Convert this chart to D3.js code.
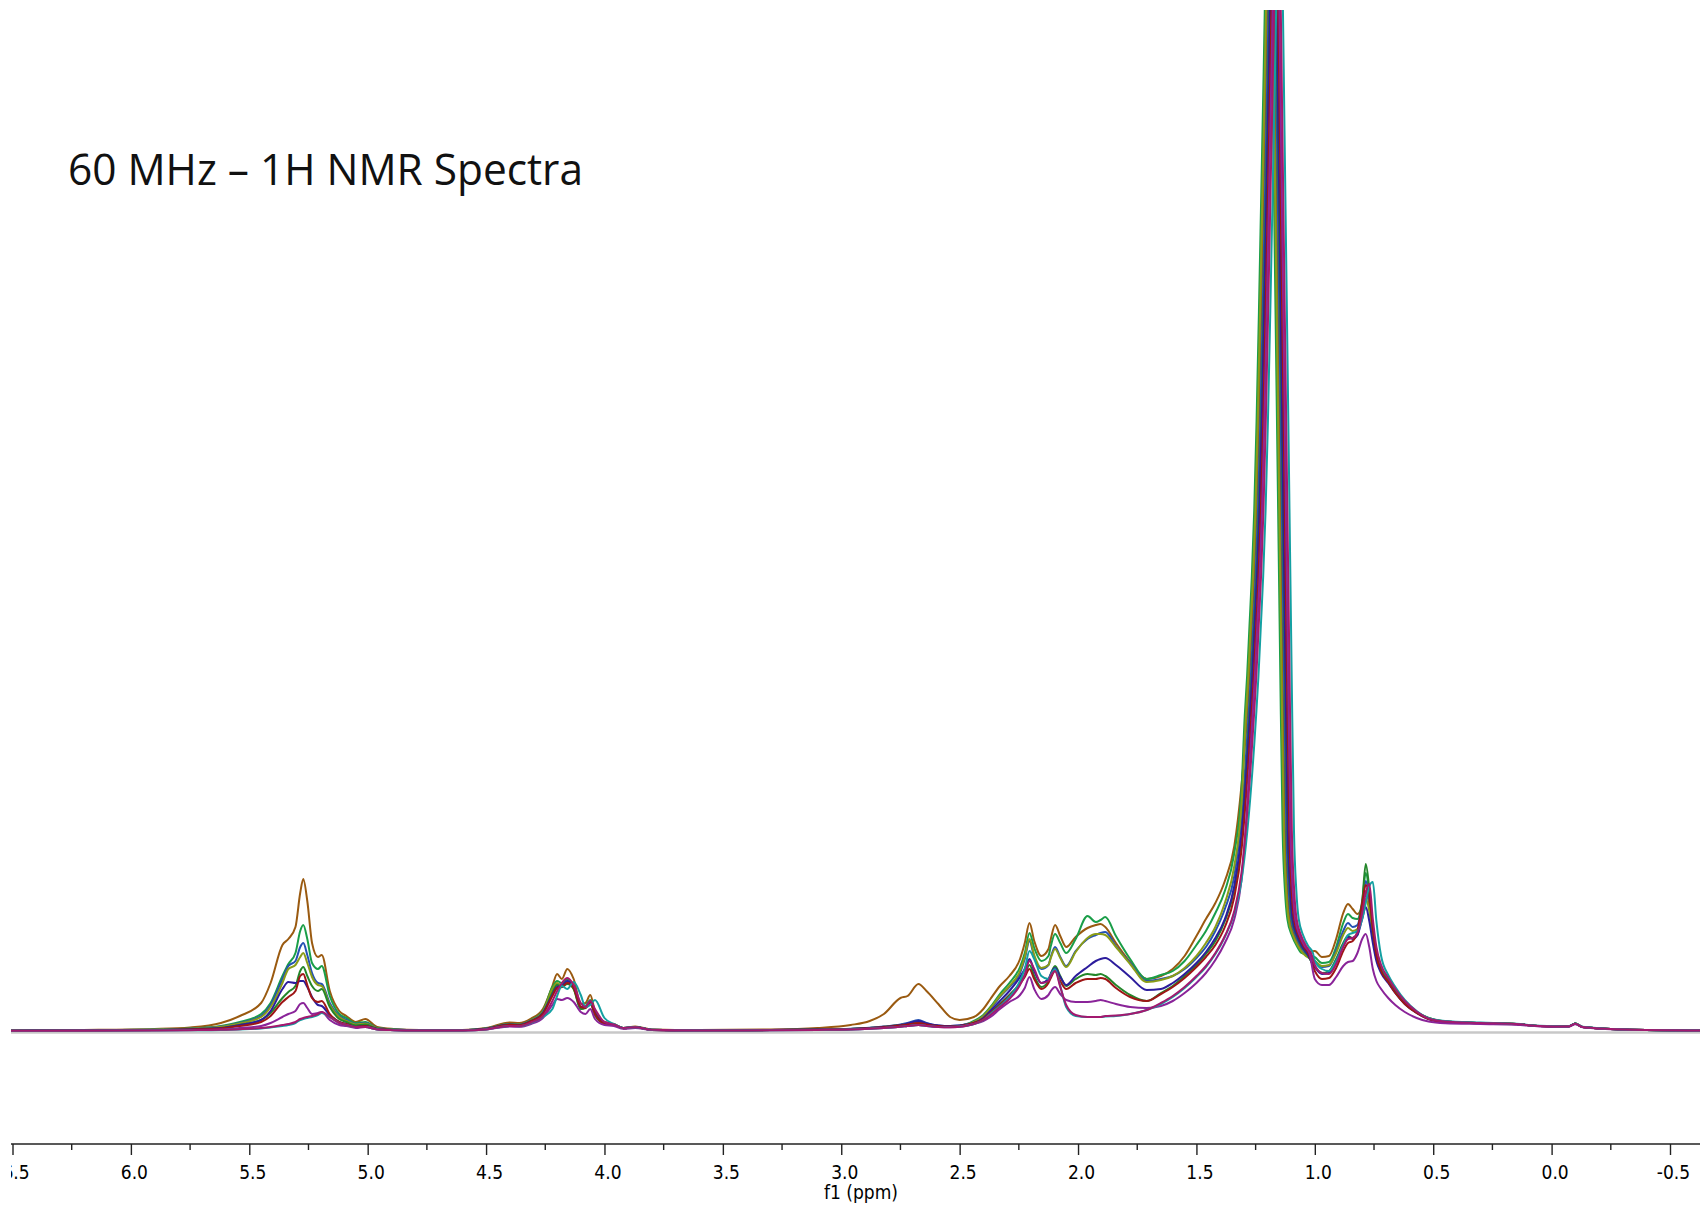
<!DOCTYPE html>
<html>
<head>
<meta charset="utf-8">
<script src="https://cdn.jsdelivr.net/npm/d3@7"></script>
<style>
  html, body { margin: 0; padding: 0; background: #fff; }
  svg { display: block; }
</style>
</head>
<body>
<svg id="chart" width="1700" height="1207"></svg>
<script>
// Chemical shift sample positions (ppm), shared by all traces outside the main CH2 peak
const ppmGrid = [
  6.60, 6.20, 5.90, 5.75, 5.62, 5.54, 5.45, 5.41, 5.36, 5.335, 5.305, 5.285, 5.272, 5.255, 5.235, 5.21, 5.194, 5.16, 5.12, 5.09, 5.05, 5.01, 4.96, 4.89, 4.78,
  4.60, 4.50, 4.40, 4.36, 4.31, 4.26, 4.22, 4.20, 4.18, 4.157, 4.13, 4.10, 4.08, 4.06, 4.04, 4.00, 3.96, 3.92, 3.87, 3.80,
  3.60, 3.30, 3.10, 2.96, 2.88, 2.82, 2.75, 2.72, 2.674, 2.64, 2.59, 2.54, 2.50,
  2.44, 2.40, 2.37, 2.33, 2.29, 2.245, 2.225, 2.205, 2.185, 2.155, 2.125, 2.115, 2.097, 2.075, 2.05, 2.01, 1.96, 1.925, 1.905, 1.885, 1.84, 1.78, 1.71, 1.65,
  1.60, 1.55, 1.50, 1.46, 1.42, 1.38, 1.34, 1.31,
  1.00, 0.97, 0.94, 0.91, 0.88, 0.86, 0.84, 0.82, 0.80, 0.785, 0.77, 0.755, 0.74, 0.72, 0.69, 0.66, 0.62, 0.57, 0.52, 0.45, 0.30, 0.15, 0.05, -0.07, -0.10, -0.13, -0.30, -0.65
];

// Intensities (a.u.) of each spectrum on ppmGrid
const spectrum1 = [
  0.5, 1, 2, 3.5, 8, 15, 28, 48, 86, 92, 104, 138, 152, 130, 88, 74, 76, 40, 20, 15, 9, 12, 4, 2, 1,
  1, 3, 8.5, 8, 12.5, 22, 45, 57, 52, 62, 52, 27, 28, 36, 20, 9, 7, 3, 4.5, 1.5,
  1, 1.5, 3, 6, 10, 17, 33, 35, 47, 40, 27, 14, 11,
  14, 22, 32, 45, 55, 72, 88, 108, 90, 75, 82, 92, 106, 95, 84, 94, 103, 106, 107, 104, 88, 69, 52, 55,
  62, 75, 95, 112, 128, 150, 185, 245,
  80, 74, 75, 92, 118, 127, 122, 117, 125, 140, 126, 98, 76, 62, 51, 40, 29, 19, 13, 9.5, 8, 7, 5, 4.5, 7.5, 4, 1.5, 0.4
];
const spectrum2 = [
  0.5, 0.8, 1.5, 2.5, 5, 9, 17, 28, 55, 67, 78, 100, 106, 92, 68, 62, 65, 35, 17, 13, 8, 9, 3, 1.5, 0.8,
  0.8, 2.5, 7, 6.5, 11, 20, 44, 50, 48, 52, 45, 24, 25, 31, 18, 8, 6.5, 3, 4, 1.2,
  0.6, 1, 1.5, 2, 3, 4, 6, 7, 9, 7, 5, 4.5, 5,
  10, 16, 24, 37, 48, 64, 78, 98, 83, 70, 75, 85, 97, 88, 78, 92, 115, 109, 111, 114, 95, 72, 52, 56,
  60, 70, 86, 100, 118, 140, 178, 240,
  74, 68, 69, 84, 108, 117, 113, 112, 130, 158, 138, 100, 76, 62, 51, 40, 29, 19, 13, 9.5, 8, 7, 5, 4.5, 7.5, 4, 1.5, 0.4
];
const spectrum3 = [
  0.4, 0.7, 1.3, 2.2, 4.5, 8, 15, 26, 52, 65, 70, 84, 88, 76, 58, 48, 47, 28, 15, 11, 7, 8, 3, 1.4, 0.7,
  0.8, 2.4, 6.8, 6.3, 10.5, 19, 40, 47, 46, 50, 44, 23, 24, 30, 17, 8, 6.5, 2.8, 4, 1.2,
  0.6, 1, 1.5, 2.2, 3.2, 4.5, 6.5, 8, 11, 8, 5.5, 5, 5.5,
  9, 15, 22, 34, 44, 58, 72, 90, 74, 62, 66, 74, 84, 74, 65, 80, 92, 96, 98, 99, 85, 68, 50, 52,
  55, 62, 73, 84, 100, 122, 155, 212,
  70, 64, 65, 80, 100, 108, 104, 106, 126, 150, 133, 98, 75, 61, 50, 39, 28, 18.5, 12.5, 9.3, 8, 7, 5, 4.5, 7.5, 4, 1.5, 0.4
];
const spectrum4 = [
  0.4, 0.7, 1.3, 2.2, 4.3, 7.5, 14, 24, 48, 62, 66, 74, 78, 68, 54, 46, 45, 26, 14, 10, 6.5, 7.5, 2.8, 1.3, 0.7,
  0.8, 2.4, 6.8, 6.2, 10.5, 19, 42, 48, 45, 49, 42, 22, 24, 29, 16, 7.5, 6.3, 2.8, 3.8, 1.2,
  0.6, 1, 1.5, 2, 3, 4.2, 6, 7, 9, 7, 5, 4.6, 5.2,
  9, 15, 23, 35, 45, 60, 74, 92, 76, 63, 66, 73, 82, 73, 64, 79, 93, 97, 97, 96, 84, 67, 49, 51,
  55, 63, 75, 88, 104, 128, 165, 225,
  70, 65, 66, 78, 96, 103, 100, 102, 118, 132, 120, 94, 73, 60, 49, 39, 28, 18.5, 12.5, 9.3, 8, 7, 5, 4.5, 7.5, 4, 1.5, 0.4
];
const spectrum5 = [
  0.3, 0.6, 1, 1.8, 3, 6, 11, 18, 33, 39, 45, 60, 64, 55, 45, 40, 42, 24, 12, 9, 5.5, 6.5, 2.5, 1.2, 0.6,
  0.7, 2.2, 6.5, 6, 10, 18, 38, 46, 44, 47, 42, 22, 23, 28, 16, 7.5, 6.2, 2.7, 3.8, 1.1,
  0.5, 0.9, 1.4, 1.9, 2.8, 3.8, 5.5, 6.5, 8, 6.5, 5, 4.5, 5,
  8, 12, 18, 27, 36, 48, 56, 66, 55, 44, 50, 57, 65, 55, 45, 52, 57, 56, 57, 55, 46, 36, 30, 38,
  45, 55, 66, 77, 90, 110, 142, 192,
  64, 58, 60, 72, 88, 95, 93, 96, 128, 167, 142, 100, 75, 60, 50, 39, 28, 18.5, 12.5, 9.3, 8, 7, 5, 4.5, 7.5, 4, 1.5, 0.4
];
const spectrum6 = [
  0.3, 0.6, 1, 1.8, 3, 6, 11, 20, 42, 49, 48, 50, 50, 44, 34, 26, 25, 16, 9, 7, 4, 5, 2, 1, 0.5,
  0.7, 2.2, 6.5, 6, 10, 18, 36, 44, 45, 50, 44, 24, 24, 29, 18, 8, 6.5, 2.8, 3.8, 1.1,
  0.5, 0.9, 1.4, 2, 3, 4.2, 6, 7.5, 10, 7.5, 5.5, 5, 5.5,
  8, 13, 20, 30, 40, 54, 62, 72, 60, 48, 52, 57, 63, 54, 46, 55, 64, 70, 72, 73, 66, 54, 41, 42,
  48, 57, 68, 79, 93, 112, 145, 196,
  64, 57, 58, 70, 86, 94, 92, 96, 112, 124, 110, 88, 70, 58, 48, 38, 27, 18, 12, 9, 7.8, 6.8, 5, 4.5, 7.2, 4, 1.5, 0.4
];
const spectrum7 = [
  0.3, 0.5, 0.9, 1.5, 2.5, 5, 9, 15, 29, 34, 40, 55, 57, 46, 33, 29, 30, 17, 9, 7, 4, 5, 2, 1, 0.5,
  0.7, 2.1, 6.3, 5.8, 9.8, 17, 35, 43, 44, 48, 43, 24, 23, 28, 17, 7.5, 6.2, 2.7, 3.7, 1.1,
  0.5, 0.9, 1.3, 1.8, 2.7, 3.8, 5.5, 6.5, 8, 6.5, 5, 4.5, 5,
  8, 12, 18, 26, 35, 47, 54, 62, 52, 42, 48, 53, 60, 50, 42, 48, 52, 52, 53, 52, 43, 34, 30, 37,
  44, 53, 64, 74, 86, 104, 134, 180,
  60, 52, 53, 63, 80, 88, 90, 100, 128, 146, 136, 102, 76, 60, 49, 38, 27, 18, 12, 9, 7.8, 6.8, 5, 4.5, 7.2, 4, 1.5, 0.4
];
const spectrum8 = [
  0.2, 0.4, 0.7, 1, 1.5, 3, 5, 8, 14, 17, 20, 27, 28, 23, 17, 18, 19, 11, 6, 5, 3, 4, 1.5, 0.8, 0.4,
  0.5, 1.5, 4.5, 4.2, 7, 13, 26, 32, 31, 33, 29, 19, 17, 22, 12, 6, 5, 2.2, 3, 0.9,
  0.4, 0.8, 1.1, 1.5, 2.2, 3, 4.2, 5, 6, 5, 4, 3.8, 4.2,
  7, 10, 14, 22, 29, 36, 43, 54, 42, 32, 36, 40, 44, 37, 31, 29, 29, 30, 31, 30, 27, 24, 23, 25,
  30, 38, 48, 58, 71, 88, 112, 150,
  52, 46, 46, 54, 65, 69, 70, 78, 92, 97, 84, 62, 50, 42, 33, 26, 19, 13, 9.5, 7.8, 7, 6.3, 4.6, 4.2, 6.8, 3.8, 1.4, 0.4
];
const spectrum9 = [
  0.2, 0.3, 0.5, 0.7, 1, 1.5, 2.5, 3.5, 5, 6, 8, 11, 12, 13, 14, 16, 18, 14, 8, 6, 4, 4, 1.5, 0.8, 0.4,
  0.5, 1.6, 5, 4.8, 8, 14, 22, 35, 45, 42, 49, 36, 24, 26, 31, 13, 7, 3, 3.8, 1.2,
  0.4, 0.8, 1.1, 1.5, 2.2, 3, 4.2, 5, 6, 5, 4, 4, 4.5,
  7, 11, 17, 25, 34, 50, 62, 80, 72, 55, 52, 56, 62, 45, 24, 15, 14, 14, 14, 14.5, 15, 17, 21, 27,
  34, 43, 54, 64, 77, 94, 118, 150,
  70, 62, 60, 70, 86, 96, 98, 100, 112, 128, 145, 149, 110, 75, 56, 44, 31, 20, 13, 10, 8.5, 7.2, 5.2, 4.6, 7.6, 4.2, 1.6, 0.4
];
const spectrum10 = [
  0.2, 0.3, 0.5, 0.8, 1.2, 1.8, 3, 4, 6, 7, 9, 12, 13, 14, 15, 17, 19, 14, 8, 6, 4, 4, 1.5, 0.8, 0.4,
  0.5, 1.6, 5, 4.8, 8.5, 15, 30, 40, 48, 53, 46, 28, 24, 30, 22, 9, 6.5, 3, 3.8, 1.2,
  0.4, 0.8, 1.1, 1.5, 2.2, 3, 4.2, 5, 6, 5, 4, 3.8, 4.3,
  7, 11, 16, 24, 32, 46, 56, 70, 62, 48, 50, 55, 60, 44, 26, 16, 14, 14, 14, 15, 15.5, 17, 21, 28,
  35, 44, 55, 65, 78, 95, 120, 158,
  66, 58, 57, 67, 84, 92, 93, 98, 118, 138, 147, 112, 84, 66, 53, 42, 30, 19.5, 12.5, 9.5, 8, 7, 5, 4.5, 7.3, 4, 1.5, 0.4
];

// Main CH2 peak near 1.2 ppm: common line shape (offset from apex in ppm, intensity)
const peakOffsets = [0.10, 0.09, 0.08, 0.07, 0.06, 0.05, 0.04, 0.03, 0.02, 0.01, 0,
  -0.01, -0.02, -0.03, -0.04, -0.05, -0.06, -0.07, -0.08, -0.10, -0.12, -0.14];
const peakProfile = [315, 355, 405, 455, 520, 610, 720, 840, 960, 1090, 1200,
  1080, 900, 720, 540, 360, 200, 140, 112, 95, 85, 78];
// Apex position of the main peak in each spectrum (ppm)
const peakApex = [1.186, 1.196, 1.180, 1.191, 1.176, 1.174, 1.168, 1.163, 1.148, 1.157];

const traceColors = ["#9a5a10", "#1a9e48", "#2451b3", "#8a9c18", "#23862a",
                     "#2c1c9c", "#9e1616", "#8a2499", "#14a0a2", "#a3196f"];

const majorTicks = d3.range(13, -2, -1).map(i => i * 0.5);
const minorTicks = d3.range(12.5, -1, -1).map(i => i * 0.5);

const series = [spectrum1, spectrum2, spectrum3, spectrum4, spectrum5,
                spectrum6, spectrum7, spectrum8, spectrum9, spectrum10];

// ---- drawing ----
const svg = d3.select("#chart");
const x = d3.scaleLinear().domain([6.5, -0.5]).range([12.5, 1670]);
const y = d3.scaleLinear().domain([0, 1021]).range([1031, 10]);

const defs = svg.append("defs");
defs.append("clipPath").attr("id", "plotClip")
  .append("rect").attr("x", 11).attr("y", 10).attr("width", 1689).attr("height", 1134);
defs.append("clipPath").attr("id", "axisClip")
  .append("rect").attr("x", 11).attr("y", 1130).attr("width", 1689).attr("height", 77);

// zero line
svg.append("line")
  .attr("x1", 11).attr("x2", 1700)
  .attr("y1", y(-1.5)).attr("y2", y(-1.5))
  .attr("stroke", "#c8c8c8").attr("stroke-width", 2.5);

function tracePoints(values, apex) {
  const pts = ppmGrid.map((p, i) => [p, values[i]]);
  peakOffsets.forEach((o, i) => pts.push([apex + o, peakProfile[i]]));
  return pts.sort((a, b) => b[0] - a[0]);
}

const line = d3.line()
  .x(d => x(d[0]))
  .y(d => y(d[1]))
  .curve(d3.curveMonotoneX);

const gSpectra = svg.append("g").attr("clip-path", "url(#plotClip)");
series.forEach((vals, i) => {
  gSpectra.append("path")
    .datum(tracePoints(vals, peakApex[i]))
    .attr("fill", "none")
    .attr("stroke", traceColors[i])
    .attr("stroke-width", 2)
    .attr("stroke-linejoin", "round")
    .attr("d", line);
});

// title
svg.append("text")
  .attr("x", 68).attr("y", 185)
  .attr("font-family", "'Open Sans', 'Noto Sans', sans-serif")
  .attr("font-size", 43)
  .attr("fill", "#111")
  .attr("textLength", 515)
  .attr("lengthAdjust", "spacingAndGlyphs")
  .text("60 MHz \u2013 1H NMR Spectra");

// x axis
const axisFont = "'DejaVu Sans Condensed', 'DejaVu Sans', sans-serif";
const gAxisOuter = svg.append("g").attr("clip-path", "url(#axisClip)");
const gAxis = gAxisOuter.append("g").attr("transform", "translate(0,1144)");
gAxis.call(d3.axisBottom(x)
  .tickValues(majorTicks)
  .tickSize(11)
  .tickFormat(d => d.toFixed(1)));
gAxis.select(".domain").remove();
gAxis.selectAll(".tick line").attr("stroke", "#222").attr("stroke-width", 1.4);
gAxis.selectAll(".tick text")
  .attr("y", 34.5).attr("dy", 0).attr("dx", 3)
  .attr("font-family", axisFont)
  .attr("font-size", 19)
  .attr("fill", "#000");
gAxis.selectAll(".minor")
  .data(minorTicks)
  .enter().append("line")
  .attr("class", "minor")
  .attr("x1", d => x(d)).attr("x2", d => x(d))
  .attr("y1", 0).attr("y2", 6)
  .attr("stroke", "#222").attr("stroke-width", 1.4);
gAxis.append("line")
  .attr("x1", 11).attr("x2", 1700)
  .attr("y1", 0).attr("y2", 0)
  .attr("stroke", "#222").attr("stroke-width", 1.6);

svg.append("text")
  .attr("x", 861).attr("y", 1199)
  .attr("text-anchor", "middle")
  .attr("font-family", axisFont)
  .attr("font-size", 19)
  .attr("fill", "#000")
  .text("f1 (ppm)");
</script>
</body>
</html>
